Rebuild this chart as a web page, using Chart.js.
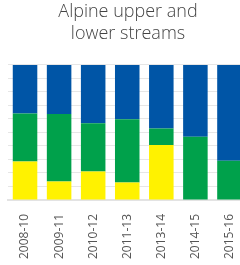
<!DOCTYPE html>
<html>
<head>
<meta charset="utf-8">
<script src="https://cdn.jsdelivr.net/npm/chart.js@4"></script>
<style>
html,body{margin:0;padding:0;background:#fff;overflow:hidden;}
#wrap{width:250px;height:265px;position:relative;}
</style>
</head>
<body>
<div id="wrap"><canvas id="c" width="250" height="265"></canvas></div>
<script>
const categories = ["2008-10","2009-11","2010-12","2011-13","2013-14","2014-15","2015-16"];
const yellowValues = [28.4, 13.7, 21.0, 12.9, 40.7, 0, 0];
const greenValues  = [35.6, 50.0, 35.8, 46.8, 12.3, 46.8, 29.0];
const blueValues   = [36.0, 36.3, 43.2, 40.3, 47.0, 53.2, 71.0];
const titleLines = ["Alpine upper and","lower streams"];

new Chart(document.getElementById('c'), {
  type: 'bar',
  data: {
    labels: categories,
    datasets: [
      {label:'Yellow', data: yellowValues, backgroundColor:'#FFF200'},
      {label:'Green', data: greenValues, backgroundColor:'#00A14B'},
      {label:'Blue', data: blueValues, backgroundColor:'#0055A6'}
    ]
  },
  options: {
    responsive:false,
    animation:false,
    layout:{padding:{left:8,right:2,top:0,bottom:0}},
    plugins:{
      legend:{display:false},
      tooltip:{enabled:false},
      title:{display:true,text:titleLines,color:'#444',
        font:{family:'Open Sans',size:18,weight:'300',lineHeight:1.22},
        padding:{top:1,bottom:20}}
    },
    datasets:{bar:{categoryPercentage:1,barPercentage:0.72}},
    scales:{
      x:{stacked:true,
        grid:{display:false},
        border:{display:true,color:'#e3e3e3',width:2},
        ticks:{minRotation:90,maxRotation:90,color:'#555',padding:6,
          font:{family:'Open Sans',size:12}}},
      y:{stacked:true,min:0,max:100,
        ticks:{display:false,stepSize:10},
        border:{display:false},
        grid:{color:'#e6e6e6',lineWidth:1,drawTicks:false}}
    }
  }
});
</script>
</body>
</html>
